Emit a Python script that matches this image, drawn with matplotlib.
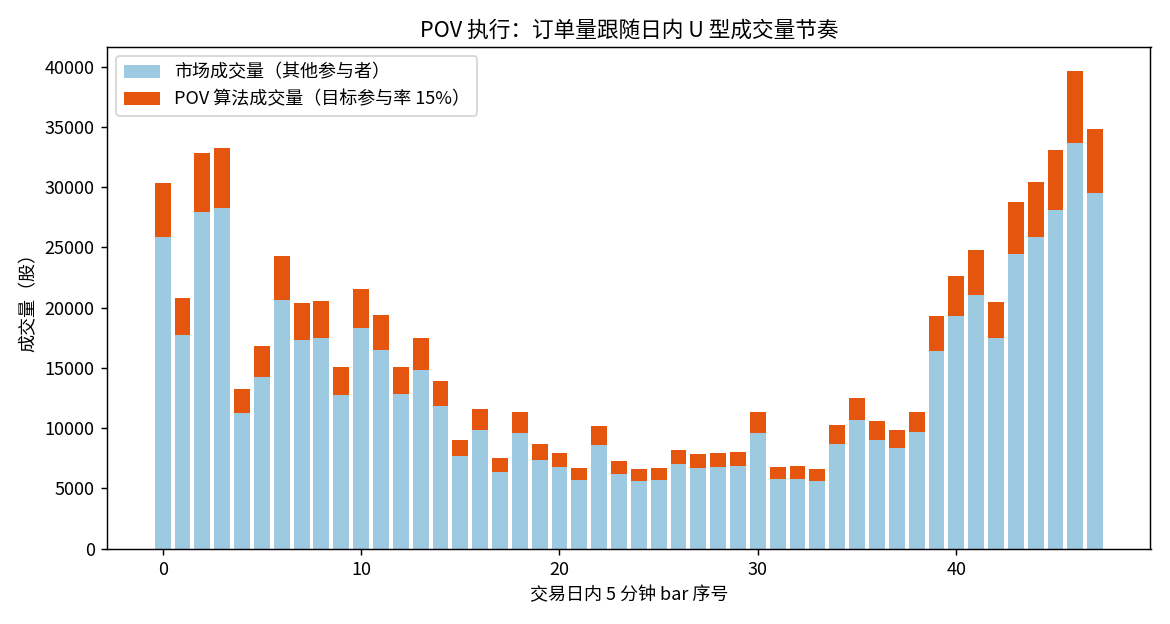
import matplotlib
matplotlib.use("Agg")
import matplotlib.pyplot as plt
import numpy as np

plt.rcParams['font.family'] = ['Noto Sans CJK SC', 'DejaVu Sans']
plt.rcParams['axes.unicode_minus'] = False

# 市场成交量（其他参与者）
market = [25860, 17690, 27940, 28280, 11280, 14280, 20610, 17280, 17440, 12780,
          18280, 16440, 12860, 14780, 11860, 7690, 9860, 6360, 9610, 7360,
          6780, 5690, 8610, 6190, 5610, 5690, 7030, 6690, 6780, 6860,
          9610, 5780, 5780, 5610, 8690, 10690, 9030, 8360, 9690, 16360,
          19280, 21030, 17440, 24440, 25860, 28110, 33690, 29530]
# 总成交量（市场 + POV）
total = [30360, 20780, 32860, 33280, 13280, 16780, 24280, 20360, 20530, 15030,
         21530, 19360, 15110, 17440, 13940, 9030, 11610, 7530, 11360, 8690,
         7940, 6690, 10190, 7280, 6610, 6690, 8190, 7860, 7940, 8030,
         11360, 6780, 6860, 6610, 10280, 12530, 10610, 9860, 11360, 19280,
         22610, 24780, 20440, 28780, 30440, 33110, 39610, 34780]
pov = [t - m for t, m in zip(total, market)]

x = np.arange(len(market))

fig, ax = plt.subplots(figsize=(9, 4.8), dpi=130)
ax.bar(x, market, color='#9ecae1', label='市场成交量（其他参与者）')
ax.bar(x, pov, bottom=market, color='#e6550d', label='POV 算法成交量（目标参与率 15%）')

ax.set_title('POV 执行：订单量跟随日内 U 型成交量节奏')
ax.set_xlabel('交易日内 5 分钟 bar 序号')
ax.set_ylabel('成交量（股）')
ax.legend(loc='upper left')

plt.tight_layout()
plt.savefig('out.png')
